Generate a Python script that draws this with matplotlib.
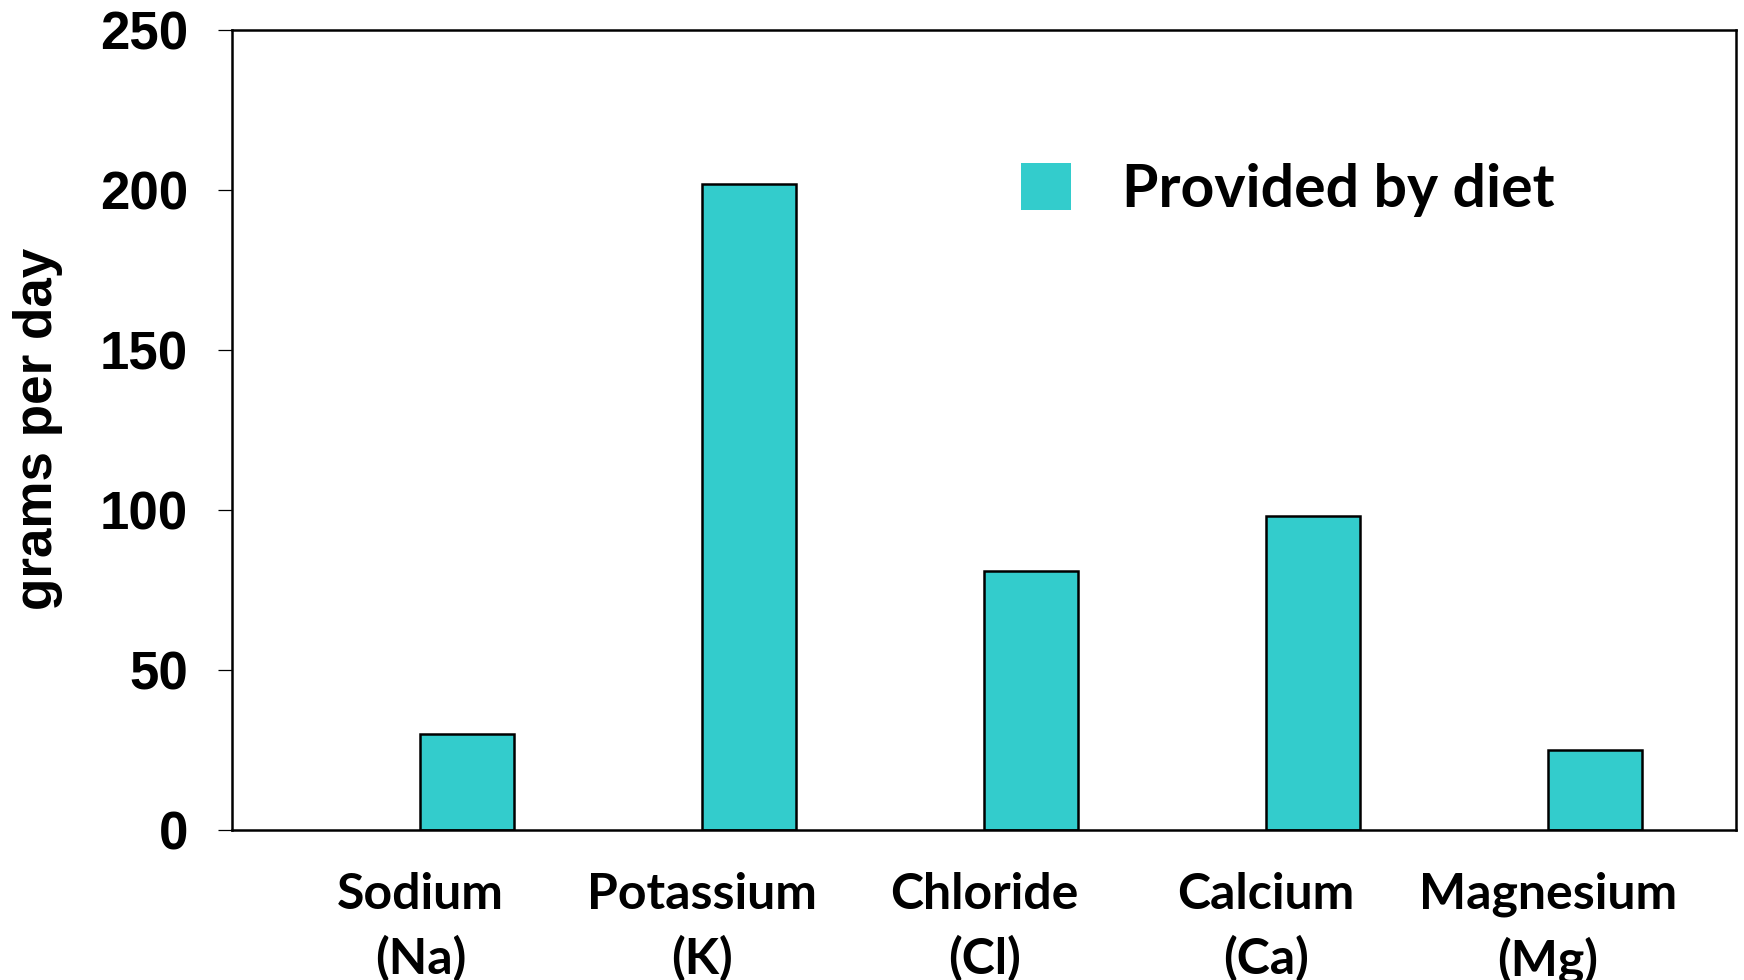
import matplotlib
matplotlib.use("Agg")
import matplotlib.pyplot as plt
import numpy as np

# Daily mineral amounts supplied by diet
categories = ["Sodium\n(Na)", "Potassium\n(K)", "Chloride\n(Cl)", "Calcium\n(Ca)", "Magnesium\n(Mg)"]
provided_by_diet = [30, 202, 81, 98, 25]
y_ticks = [0, 50, 100, 150, 200, 250]
series_label = "Provided by diet"
y_label = "grams per day"

bar_color = "#33CCCC"
num_font = ["Liberation Sans", "DejaVu Sans"]
text_font = ["Lato", "DejaVu Sans"]

fig = plt.figure(figsize=(17.44, 9.8), dpi=100)
ax = fig.add_axes([0.1333, 0.1531, 0.8621, 0.8163])

x = np.arange(len(categories))
width = 1 / 3
# second slot of a two-slot group; the first slot is left empty
ax.bar(x + width / 2, provided_by_diet, width=width, color=bar_color,
       edgecolor="black", linewidth=1.8, label=series_label, zorder=2)

ax.set_xlim(-2 / 3, len(categories) - 1 + 2 / 3)
ax.set_ylim(0, 250)
ax.set_yticks(y_ticks)
ax.set_yticklabels([str(v) for v in y_ticks], fontfamily=num_font,
                   fontweight="bold", fontsize=38)
ax.set_xticks(x)
ax.set_xticklabels(categories, fontfamily=text_font, fontweight="bold",
                   fontsize=36, linespacing=1.48)

ax.tick_params(axis="y", direction="out", length=10, width=0.9, pad=22)
ax.tick_params(axis="x", length=0, pad=30)

for s in ax.spines.values():
    s.set_linewidth(1.8)
    s.set_color("black")

ax.set_ylabel(y_label, fontfamily=num_font, fontweight="bold", fontsize=38.2)
ax.yaxis.set_label_coords(-0.113, 0.502)

leg = ax.legend(loc="center left", bbox_to_anchor=(1021 / 1744, 1 - 190 / 980),
                bbox_transform=fig.transFigure, frameon=False,
                prop={"family": text_font, "weight": "bold", "size": 42.5},
                handlelength=0.85, handleheight=0.85, handletextpad=0.86,
                borderpad=0, borderaxespad=0)
for h in leg.legend_handles:
    h.set_edgecolor("none")

fig.savefig("out.png", dpi=100)
